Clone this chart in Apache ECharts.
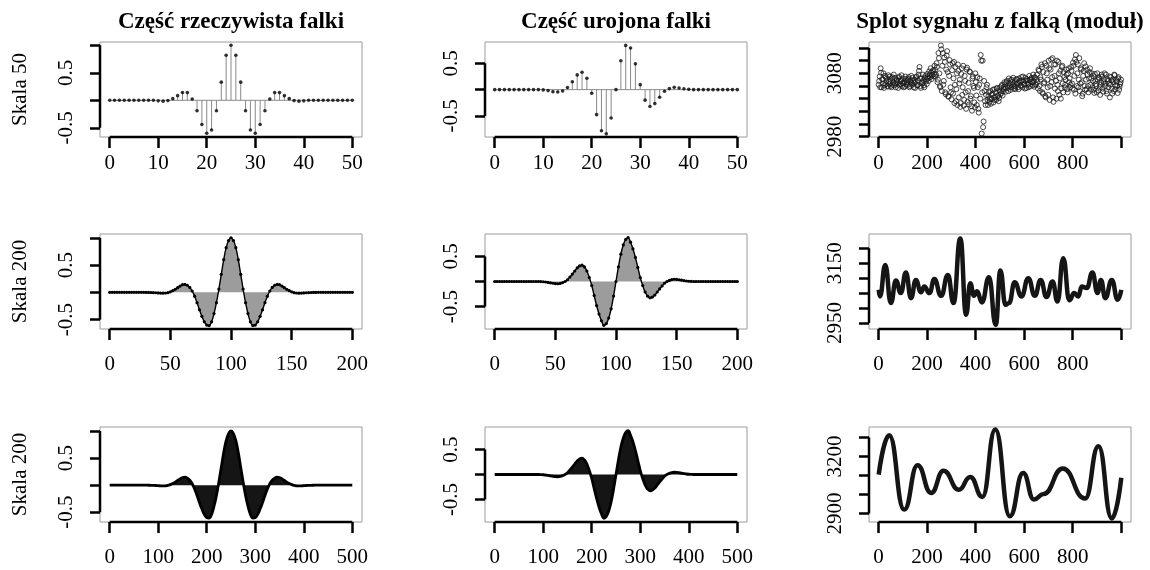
<!DOCTYPE html>
<html><head><meta charset="utf-8">
<script src="https://cdn.jsdelivr.net/npm/echarts@6/dist/echarts.min.js"></script>
<style>html,body{margin:0;padding:0;background:#fff;}#c{width:1150px;height:570px;}</style>
</head><body><div id="c"></div>
<script>
// ---------- text ----------
const TITLES = ["Część rzeczywista falki", "Część urojona falki", "Splot sygnału z falką (moduł)"];
const ROW_LABELS = ["Skala 50", "Skala 200", "Skala 200"];

// ---------- wavelet, scale 50 (x = 0..50, step 1) ----------
const real1 = [0,0,0,0,0,0,0,0,0,0,
 -0.01,-0.015,-0.005,0.03,0.085,0.14,0.14,0.025,-0.19,-0.44,
 -0.60,-0.54,-0.19,0.33,0.82,1.0,0.82,0.33,-0.19,-0.54,
 -0.60,-0.44,-0.19,0.025,0.14,0.14,0.085,0.03,-0.005,-0.015,
 -0.01,0,0,0,0,0,0,0,0,0,0];
const imag1 = [0,0,0,0,0,0,0,0,0,0,
 -0.005,-0.018,-0.04,-0.045,-0.025,0.04,0.15,0.28,0.33,0.215,
 -0.07,-0.475,-0.78,-0.84,-0.54,0,0.55,0.84,0.79,0.49,
 0.095,-0.20,-0.32,-0.265,-0.145,-0.03,0.02,0.045,0.03,0.015,
 0.005,0,0,0,0,0,0,0,0,0,0];

// ---------- wavelet, second row (x = 0..200, step 2) ----------
const real2 = [0,0,0,0,0,0,0,0,0,0,0,0,0,0,0,
 -0.001,-0.002,-0.003,-0.005,-0.007,-0.01,-0.013,-0.015,-0.012,-0.005,
 0.01,0.03,0.055,0.085,0.115,0.14,0.145,0.13,0.09,0.025,
 -0.07,-0.19,-0.32,-0.44,-0.54,-0.60,-0.61,-0.54,-0.39,-0.19,
 0.06,0.33,0.60,0.82,0.95,1.0,
 0.95,0.82,0.60,0.33,0.06,
 -0.19,-0.39,-0.54,-0.61,-0.60,-0.54,-0.44,-0.32,-0.19,-0.07,
 0.025,0.09,0.13,0.145,0.14,0.115,0.085,0.055,0.03,0.01,
 -0.005,-0.012,-0.015,-0.013,-0.01,-0.007,-0.005,-0.003,-0.002,-0.001,
 0,0,0,0,0,0,0,0,0,0,0,0,0,0,0];
const imag2 = [0,0,0,0,0,0,0,0,0,0,0,0,0,0,0,0,0,0,0,
 -0.002,-0.005,-0.01,-0.018,-0.027,-0.035,-0.042,-0.045,-0.038,-0.022,
 0,0.035,0.09,0.148,0.21,0.27,0.31,0.325,0.29,0.21,
 0.08,-0.08,-0.28,-0.48,-0.65,-0.785,-0.875,-0.84,-0.73,-0.545,
 -0.29,0,
 0.29,0.545,0.73,0.84,0.875,0.785,0.65,0.48,0.28,0.08,
 -0.08,-0.21,-0.29,-0.325,-0.31,-0.27,-0.21,-0.148,-0.09,-0.035,
 0,0.022,0.038,0.045,0.042,0.035,0.027,0.018,0.01,0.005,
 0.002,
 0,0,0,0,0,0,0,0,0,0,0,0,0,0,0,0,0,0,0];

// ---------- wavelet, third row (x = 0..500, step 5) ----------
const real3 = [0,0,0,0,0,0,0,0,0,0,0,0,0,0,0,
 -0.001,-0.002,-0.003,-0.005,-0.007,-0.01,-0.013,-0.015,-0.012,-0.005,
 0.01,0.03,0.055,0.085,0.115,0.14,0.145,0.13,0.09,0.025,
 -0.07,-0.19,-0.32,-0.44,-0.54,-0.60,-0.61,-0.54,-0.39,-0.19,
 0.06,0.33,0.60,0.82,0.95,1.0,
 0.95,0.82,0.60,0.33,0.06,
 -0.19,-0.39,-0.54,-0.61,-0.60,-0.54,-0.44,-0.32,-0.19,-0.07,
 0.025,0.09,0.13,0.145,0.14,0.115,0.085,0.055,0.03,0.01,
 -0.005,-0.012,-0.015,-0.013,-0.01,-0.007,-0.005,-0.003,-0.002,-0.001,
 0,0,0,0,0,0,0,0,0,0,0,0,0,0,0];
const imag3 = [0,0,0,0,0,0,0,0,0,0,0,0,0,0,0,0,0,0,0,
 -0.002,-0.005,-0.01,-0.018,-0.027,-0.035,-0.042,-0.045,-0.038,-0.022,
 0,0.035,0.09,0.148,0.21,0.27,0.31,0.325,0.29,0.21,
 0.08,-0.08,-0.28,-0.48,-0.65,-0.785,-0.875,-0.84,-0.73,-0.545,
 -0.29,0,
 0.29,0.545,0.73,0.84,0.875,0.785,0.65,0.48,0.28,0.08,
 -0.08,-0.21,-0.29,-0.325,-0.31,-0.27,-0.21,-0.148,-0.09,-0.035,
 0,0.022,0.038,0.045,0.042,0.035,0.027,0.018,0.01,0.005,
 0.002,
 0,0,0,0,0,0,0,0,0,0,0,0,0,0,0,0,0,0,0];

// ---------- convolution modulus, scale 50 (points at x = 1,5,9,...) ----------
const conv1a = [
 3062,3075,3088,3058,3070,3080,3061,3074,3068,3060,
 3077,3063,3070,3058,3074,3066,3061,3073,3064,3069,
 3057,3075,3063,3068,3060,3072,3065,3059,3071,3066,
 3062,3074,3060,3069,3064,3073,3058,3070,3066,3075,
 3061,3078,3090,3060,3072,3064,3069,3058,3076,3070,
 3079,3072,3083,3074,3081,3077,3085,3079,3086,3078,
 3090,3070,3104,3060,3124,3052,3112,3068,3098,3047,
 3108,3082,3043,3101,3058,3039,3096,3072,3033,3090,
 3055,3030,3084,3064,3027,3079,3046,3092,3038,3068,
 3024,3089,3052,3031,3082,3044,3021,3075,3057,3026,
 3066,3030,3058,3018,3072,3109,2985,3100,3004,3052,
 3030,3058,3038,3044,3035,3052,3040,3048,3034,3055,
 3043,3038,3057,3046,3041,3058,3049,3062,3052,3058,
 3063,3051,3068,3057,3072,3060,3054,3070,3062,3056,
 3066,3059,3071,3063,3055,3068,3061,3074,3058,3067,
 3062,3073,3057,3069,3064,3076,3060,3071,3066,3078,
 3059,3073,3063,3078,3056,3084,3052,3070,3090,3048,
 3064,3096,3042,3080,3058,3100,3038,3086,3066,3104,
 3035,3076,3094,3040,3062,3098,3046,3084,3056,3092,
 3050,3074,3062,3086,3055,3080,3066,3058,3090,3064,
 3097,3054,3102,3109,3060,3094,3070,3052,3088,3066,
 3048,3084,3060,3091,3055,3078,3050,3082,3062,3072,
 3058,3076,3049,3068,3060,3080,3053,3072,3046,3066,
 3075,3051,3070,3060,3078,3048,3068,3064,3042,3074,
 3056,3070,3052,3077,3061,3067,3049,3074,3059,3066];
// (points at x = 3,7,11,...)
const conv1b = [
 3068,3058,3081,3071,3064,3057,3076,3063,3072,3059,
 3067,3075,3060,3072,3062,3078,3064,3058,3070,3066,
 3073,3061,3069,3077,3064,3058,3067,3075,3062,3069,
 3071,3058,3066,3076,3062,3068,3065,3057,3074,3061,
 3069,3084,3072,3057,3066,3078,3061,3073,3067,3063,
 3074,3068,3078,3088,3071,3083,3075,3092,
 3075,3096,3066,3112,3080,3058,3118,3092,3062,3105,3050,3086,3115,3044,3076,3094,3050,
 3085,3048,3098,3062,3036,3080,3094,3042,3070,3033,
 3088,3058,3029,3076,3050,3086,3035,3065,3083,3040,
 3028,3072,3060,3034,3080,
 3045,3074,3024,3062,3040,3100,3050,2995,3068,3036,3046,3062,3030,
 3050,3040,3032,3046,3054,3042,3038,3050,3056,3044,3036,3053,3047,3060,3045,3055,3066,
 3056,3066,3060,3052,3064,3069,3058,3066,3073,3060,
 3055,3070,3064,3058,3072,3066,3060,3069,3075,3063,
 3056,3068,3071,3062,3058,3070,3067,3073,3061,3068,
 3074,3062,3070,
 3066,3086,3060,3074,3094,3050,3082,3066,3044,3092,
 3070,3046,3088,3060,3102,3074,3042,3094,3056,3068,
 3100,3052,3080,3072,3040,3090,3064,3082,3058,3070,
 3078,3050,3088,3072,3062,3084,3056,3092,3076,3048,
 3098,3080,3058,3104,3064,3086,3044,3076,3096,3054,
 3070,3086,3060,3072,3088,3054,3080,
 3068,3054,3079,3063,3050,3070,3074,3058,3062,3078,
 3056,3066,3080,3064,3052,3071,3058,3075,3062,3069,
 3048,3066,3078,3055,3070,3060,3072,3054,3063,3070];
const CONV1A_START = 1, CONV1B_START = 3, CONV1_STEP = 4;

// ---------- convolution modulus, second row (turning points) ----------
const conv2X = [1,6,28,51,72,92,113,134,154,175,189,210,230,258,286,309,337,361,378,393,
 406,426,455,483,502,523,538,561,589,617,644,668,692,717,737,761,786,806,823,837,
 858,881,902,916,934,961,985,1000];
const conv2Y = [3061,3039,3144,3017,3092,3050,3119,3033,3094,3053,3072,3050,3097,3041,3111,3017,3233,2978,3083,3041,
 3056,3019,3103,2944,3126,3011,3017,3086,3039,3100,3041,3094,3037,3089,3022,3167,3026,3050,3039,3072,
 3067,3119,3050,3094,3033,3094,3028,3061];

// ---------- convolution modulus, third row (turning points) ----------
const conv3X = [1,44,106,161,217,268,331,378,428,481,541,596,640,680,759,851,906,961,1000];
const conv3Y = [3105,3312,2921,3154,3009,3125,3026,3093,2988,3342,2886,3114,2974,3003,3137,2979,3254,2874,3089];

// ---------- axis ticks & labels ----------
const xTicks50 = [0,10,20,30,40,50];
const xTicks200 = [0,50,100,150,200];
const xTicks500 = [0,100,200,300,400,500];
const xTicksConv = [0,200,400,600,800,1000];
const xLabelsConv = [0,200,400,600,800];
const yTicksReal = [-0.5,0,0.5,1];
const yTicksImag = [-0.5,0,0.5];
const yLabelsWave = [-0.5,0.5];
const yTicksConv1 = [2980,3000,3020,3040,3060,3080,3100,3120];
const yLabelsConv1 = [2980,3080];
const yTicksConv2 = [2950,3000,3050,3100,3150,3200];
const yLabelsConv2 = [2950,3150];
const yTicksConv3 = [2900,3000,3100,3200,3300];
const yLabelsConv3 = [2900,3200];

// ---------- layout ----------
const LEFTS = [100, 485, 869], TOPS = [42, 234, 427], W = 262, H = 95;
const FONT = '"Liberation Serif", "Times New Roman", serif';
const XMARGIN = [16, 25, 25];

const panels = [
 {r:0,c:0, xr:[-2,52], yr:[-0.667,1.06], xt:xTicks50, xl:xTicks50, yt:yTicksReal, yl:yLabelsWave},
 {r:0,c:1, xr:[-2,52], yr:[-0.9,0.905], xt:xTicks50, xl:xTicks50, yt:yTicksImag, yl:yLabelsWave},
 {r:0,c:2, xr:[-38.96,1039.96], yr:[2979.5,3129.5], xt:xTicksConv, xl:xLabelsConv, yt:yTicksConv1, yl:yLabelsConv1},
 {r:1,c:0, xr:[-8,208], yr:[-0.672,1.07], xt:xTicks200, xl:xTicks200, yt:yTicksReal, yl:yLabelsWave},
 {r:1,c:1, xr:[-8,208], yr:[-0.948,0.948], xt:xTicks200, xl:xTicks200, yt:yTicksImag, yl:yLabelsWave},
 {r:1,c:2, xr:[-38.96,1039.96], yr:[2930,3247.7], xt:xTicksConv, xl:xLabelsConv, yt:yTicksConv2, yl:yLabelsConv2},
 {r:2,c:0, xr:[-20,520], yr:[-0.68,1.072], xt:xTicks500, xl:xTicks500, yt:yTicksReal, yl:yLabelsWave},
 {r:2,c:1, xr:[-20,520], yr:[-0.95,0.95], xt:xTicks500, xl:xTicks500, yt:yTicksImag, yl:yLabelsWave},
 {r:2,c:2, xr:[-38.96,1039.96], yr:[2855.8,3355.8], xt:xTicksConv, xl:xLabelsConv, yt:yTicksConv3, yl:yLabelsConv3}
];

const grid = [], xAxis = [], yAxis = [], series = [];
const fmt = v => String(v);
panels.forEach((p, k) => {
  grid.push({left: LEFTS[p.c], top: TOPS[p.r], width: W, height: H, show: true,
    borderColor: '#9a9a9a', borderWidth: 1, backgroundColor: 'transparent', containLabel: false});
  xAxis.push({type: 'value', gridIndex: k, min: p.xr[0], max: p.xr[1],
    axisLine: {show: false, onZero: false}, splitLine: {show: false},
    axisTick: {show: true, length: 11, inside: false, customValues: p.xt, lineStyle: {color: '#000', width: 2.5}},
    axisLabel: {show: true, customValues: p.xl, formatter: fmt, margin: XMARGIN[p.r],
      fontFamily: FONT, fontSize: 21, color: '#000'}});
  yAxis.push({type: 'value', gridIndex: k, min: p.yr[0], max: p.yr[1],
    axisLine: {show: false, onZero: false}, splitLine: {show: false},
    axisTick: {show: true, length: 10, inside: false, customValues: p.yt, lineStyle: {color: '#000', width: 2.5}},
    axisLabel: {show: true, customValues: p.yl, formatter: fmt, rotate: 90, margin: 23,
      fontFamily: FONT, fontSize: 21, color: '#000'}});
  // R-style axis lines spanning first..last tick
  const axLine = {type: 'line', xAxisIndex: k, yAxisIndex: k, clip: false, symbol: 'none', silent: true, z: 10,
    lineStyle: {color: '#000', width: 2.5}};
  series.push(Object.assign({}, axLine, {data: [[p.xt[0], p.yr[0]], [p.xt[p.xt.length - 1], p.yr[0]]]}));
  series.push(Object.assign({}, axLine, {data: [[p.xr[0], p.yt[0]], [p.xr[0], p.yt[p.yt.length - 1]]]}));
});

// row 1: stems + dots
[real1, imag1].forEach((arr, c) => {
  const pts = arr.map((v, i) => [i, v]);
  series.push({type: 'line', xAxisIndex: c, yAxisIndex: c, data: [[0, 0], [arr.length - 1, 0]], symbol: 'none',
    lineStyle: {color: '#8a8a8a', width: 1}, silent: true, z: 2});
  series.push({type: 'bar', xAxisIndex: c, yAxisIndex: c, data: pts, barWidth: 1,
    itemStyle: {color: '#8a8a8a'}, silent: true, z: 2});
  series.push({type: 'scatter', xAxisIndex: c, yAxisIndex: c, data: pts, symbol: 'circle', symbolSize: 3.6,
    itemStyle: {color: '#000'}, silent: true, z: 3});
});

// row 2: grey-filled
[[real2, 3], [imag2, 4]].forEach(([arr, k]) => {
  series.push({type: 'line', xAxisIndex: k, yAxisIndex: k, data: arr.map((v, i) => [i * 2, v]),
    smooth: 0.4, showSymbol: true, symbol: 'circle', symbolSize: 3.2, itemStyle: {color: '#000'},
    lineStyle: {color: '#000', width: 1.4}, areaStyle: {color: '#9c9c9c', opacity: 1, origin: 0}, silent: true, z: 3});
});

// row 3: black-filled
[[real3, 6], [imag3, 7]].forEach(([arr, k]) => {
  series.push({type: 'line', xAxisIndex: k, yAxisIndex: k, data: arr.map((v, i) => [i * 5, v]),
    smooth: 0.4, showSymbol: false, lineStyle: {color: '#000', width: 2.8},
    areaStyle: {color: '#151515', opacity: 1, origin: 0}, silent: true, z: 3});
});

// col 3
const ringStyle = {color: 'rgba(0,0,0,0)', borderColor: '#1c1c1c', borderWidth: 1};
series.push({type: 'scatter', xAxisIndex: 2, yAxisIndex: 2,
  data: conv1a.map((v, i) => [CONV1A_START + i * CONV1_STEP, v]),
  symbol: 'circle', symbolSize: 5, itemStyle: ringStyle, silent: true, z: 3});
series.push({type: 'scatter', xAxisIndex: 2, yAxisIndex: 2,
  data: conv1b.map((v, i) => [CONV1B_START + i * CONV1_STEP, v]),
  symbol: 'circle', symbolSize: 5, itemStyle: ringStyle, silent: true, z: 3});
series.push({type: 'line', xAxisIndex: 5, yAxisIndex: 5, data: conv2X.map((x, i) => [x, conv2Y[i]]),
  smooth: 0.5, smoothMonotone: 'x', showSymbol: false, lineStyle: {color: '#151515', width: 4.5}, silent: true, z: 3});
series.push({type: 'line', xAxisIndex: 8, yAxisIndex: 8, data: conv3X.map((x, i) => [x, conv3Y[i]]),
  smooth: 0.5, smoothMonotone: 'x', showSymbol: false, lineStyle: {color: '#151515', width: 4.5}, silent: true, z: 3});

// titles and row labels
const graphic = [];
TITLES.forEach((t, c) => {
  graphic.push({type: 'text', x: LEFTS[c] + W / 2, y: 22, silent: true,
    style: {text: t, font: 'bold 23px ' + FONT, fill: '#000', textAlign: 'center', textVerticalAlign: 'middle', align: 'center', verticalAlign: 'middle'}});
});
ROW_LABELS.forEach((t, r) => {
  graphic.push({type: 'text', x: 20, y: TOPS[r] + H / 2, rotation: Math.PI / 2, silent: true,
    style: {text: t, font: '21px ' + FONT, fill: '#000', textAlign: 'center', textVerticalAlign: 'middle', align: 'center', verticalAlign: 'middle'}});
});

const chart = echarts.init(document.getElementById('c'), null, {renderer: 'canvas'});
chart.setOption({animation: false, backgroundColor: '#fff', grid, xAxis, yAxis, series, graphic});
</script></body></html>
